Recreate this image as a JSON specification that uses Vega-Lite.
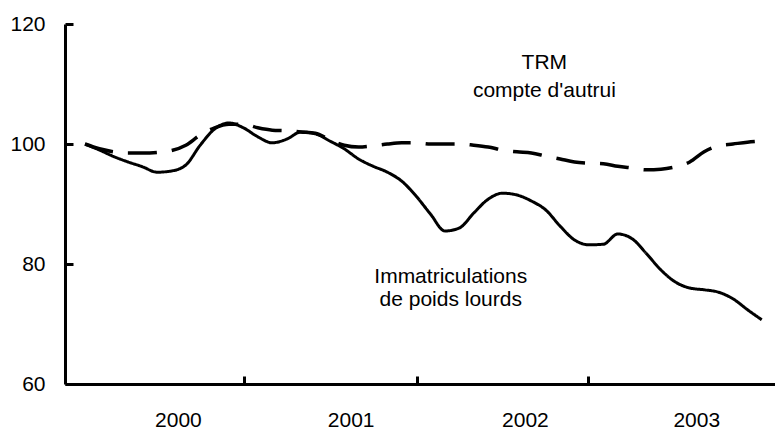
{
  "$schema": "https://vega.github.io/schema/vega-lite/v6.json",
  "width": 710,
  "height": 360,
  "autosize": {"type": "none"},
  "padding": {"left": 65, "top": 24, "right": 0, "bottom": 45},
  "background": "white",
  "config": {"view": {"stroke": null}, "font": "Liberation Sans"},
  "datasets": {
    "series": [
      {"mois": 0, "serie": "Immatriculations de poids lourds", "indice": 100.0},
      {"mois": 1, "serie": "Immatriculations de poids lourds", "indice": 99.0},
      {"mois": 2, "serie": "Immatriculations de poids lourds", "indice": 97.9},
      {"mois": 3, "serie": "Immatriculations de poids lourds", "indice": 97.0},
      {"mois": 4, "serie": "Immatriculations de poids lourds", "indice": 96.2},
      {"mois": 5, "serie": "Immatriculations de poids lourds", "indice": 95.3},
      {"mois": 6, "serie": "Immatriculations de poids lourds", "indice": 95.5},
      {"mois": 7, "serie": "Immatriculations de poids lourds", "indice": 96.5},
      {"mois": 8, "serie": "Immatriculations de poids lourds", "indice": 99.8},
      {"mois": 9, "serie": "Immatriculations de poids lourds", "indice": 102.5},
      {"mois": 10, "serie": "Immatriculations de poids lourds", "indice": 103.5},
      {"mois": 11, "serie": "Immatriculations de poids lourds", "indice": 102.7},
      {"mois": 12, "serie": "Immatriculations de poids lourds", "indice": 101.2},
      {"mois": 13, "serie": "Immatriculations de poids lourds", "indice": 100.2},
      {"mois": 14, "serie": "Immatriculations de poids lourds", "indice": 100.8},
      {"mois": 15, "serie": "Immatriculations de poids lourds", "indice": 102.0},
      {"mois": 16, "serie": "Immatriculations de poids lourds", "indice": 101.7},
      {"mois": 17, "serie": "Immatriculations de poids lourds", "indice": 100.5},
      {"mois": 18, "serie": "Immatriculations de poids lourds", "indice": 99.2},
      {"mois": 19, "serie": "Immatriculations de poids lourds", "indice": 97.5},
      {"mois": 20, "serie": "Immatriculations de poids lourds", "indice": 96.3},
      {"mois": 21, "serie": "Immatriculations de poids lourds", "indice": 95.3},
      {"mois": 22, "serie": "Immatriculations de poids lourds", "indice": 93.8},
      {"mois": 23, "serie": "Immatriculations de poids lourds", "indice": 91.3},
      {"mois": 24, "serie": "Immatriculations de poids lourds", "indice": 88.3},
      {"mois": 25, "serie": "Immatriculations de poids lourds", "indice": 85.5},
      {"mois": 26, "serie": "Immatriculations de poids lourds", "indice": 86.0},
      {"mois": 27, "serie": "Immatriculations de poids lourds", "indice": 88.5},
      {"mois": 28, "serie": "Immatriculations de poids lourds", "indice": 90.8},
      {"mois": 29, "serie": "Immatriculations de poids lourds", "indice": 91.8},
      {"mois": 30, "serie": "Immatriculations de poids lourds", "indice": 91.5},
      {"mois": 31, "serie": "Immatriculations de poids lourds", "indice": 90.5},
      {"mois": 32, "serie": "Immatriculations de poids lourds", "indice": 89.0},
      {"mois": 33, "serie": "Immatriculations de poids lourds", "indice": 86.3},
      {"mois": 34, "serie": "Immatriculations de poids lourds", "indice": 84.0},
      {"mois": 35, "serie": "Immatriculations de poids lourds", "indice": 83.2},
      {"mois": 36, "serie": "Immatriculations de poids lourds", "indice": 83.3},
      {"mois": 37, "serie": "Immatriculations de poids lourds", "indice": 85.0},
      {"mois": 38, "serie": "Immatriculations de poids lourds", "indice": 84.2},
      {"mois": 39, "serie": "Immatriculations de poids lourds", "indice": 81.7},
      {"mois": 40, "serie": "Immatriculations de poids lourds", "indice": 79.0},
      {"mois": 41, "serie": "Immatriculations de poids lourds", "indice": 77.0},
      {"mois": 42, "serie": "Immatriculations de poids lourds", "indice": 76.0},
      {"mois": 43, "serie": "Immatriculations de poids lourds", "indice": 75.7},
      {"mois": 44, "serie": "Immatriculations de poids lourds", "indice": 75.3},
      {"mois": 45, "serie": "Immatriculations de poids lourds", "indice": 74.2},
      {"mois": 46, "serie": "Immatriculations de poids lourds", "indice": 72.4},
      {"mois": 47, "serie": "Immatriculations de poids lourds", "indice": 70.7},
      {"mois": 0, "serie": "TRM compte d'autrui", "indice": 100.0},
      {"mois": 1, "serie": "TRM compte d'autrui", "indice": 99.2},
      {"mois": 2, "serie": "TRM compte d'autrui", "indice": 98.7},
      {"mois": 3, "serie": "TRM compte d'autrui", "indice": 98.5},
      {"mois": 4, "serie": "TRM compte d'autrui", "indice": 98.5},
      {"mois": 5, "serie": "TRM compte d'autrui", "indice": 98.6},
      {"mois": 6, "serie": "TRM compte d'autrui", "indice": 98.9},
      {"mois": 7, "serie": "TRM compte d'autrui", "indice": 99.8},
      {"mois": 8, "serie": "TRM compte d'autrui", "indice": 101.5},
      {"mois": 9, "serie": "TRM compte d'autrui", "indice": 102.7},
      {"mois": 10, "serie": "TRM compte d'autrui", "indice": 103.3},
      {"mois": 11, "serie": "TRM compte d'autrui", "indice": 103.3},
      {"mois": 12, "serie": "TRM compte d'autrui", "indice": 102.7},
      {"mois": 13, "serie": "TRM compte d'autrui", "indice": 102.3},
      {"mois": 14, "serie": "TRM compte d'autrui", "indice": 102.2},
      {"mois": 15, "serie": "TRM compte d'autrui", "indice": 102.0},
      {"mois": 16, "serie": "TRM compte d'autrui", "indice": 101.8},
      {"mois": 17, "serie": "TRM compte d'autrui", "indice": 100.7},
      {"mois": 18, "serie": "TRM compte d'autrui", "indice": 99.8},
      {"mois": 19, "serie": "TRM compte d'autrui", "indice": 99.5},
      {"mois": 20, "serie": "TRM compte d'autrui", "indice": 99.7},
      {"mois": 21, "serie": "TRM compte d'autrui", "indice": 100.0},
      {"mois": 22, "serie": "TRM compte d'autrui", "indice": 100.2},
      {"mois": 23, "serie": "TRM compte d'autrui", "indice": 100.2},
      {"mois": 24, "serie": "TRM compte d'autrui", "indice": 100.0},
      {"mois": 25, "serie": "TRM compte d'autrui", "indice": 100.0},
      {"mois": 26, "serie": "TRM compte d'autrui", "indice": 100.0},
      {"mois": 27, "serie": "TRM compte d'autrui", "indice": 99.8},
      {"mois": 28, "serie": "TRM compte d'autrui", "indice": 99.5},
      {"mois": 29, "serie": "TRM compte d'autrui", "indice": 99.0},
      {"mois": 30, "serie": "TRM compte d'autrui", "indice": 98.7},
      {"mois": 31, "serie": "TRM compte d'autrui", "indice": 98.5},
      {"mois": 32, "serie": "TRM compte d'autrui", "indice": 98.0},
      {"mois": 33, "serie": "TRM compte d'autrui", "indice": 97.5},
      {"mois": 34, "serie": "TRM compte d'autrui", "indice": 97.0},
      {"mois": 35, "serie": "TRM compte d'autrui", "indice": 96.8},
      {"mois": 36, "serie": "TRM compte d'autrui", "indice": 96.7},
      {"mois": 37, "serie": "TRM compte d'autrui", "indice": 96.3},
      {"mois": 38, "serie": "TRM compte d'autrui", "indice": 96.0},
      {"mois": 39, "serie": "TRM compte d'autrui", "indice": 95.7},
      {"mois": 40, "serie": "TRM compte d'autrui", "indice": 95.8},
      {"mois": 41, "serie": "TRM compte d'autrui", "indice": 96.2},
      {"mois": 42, "serie": "TRM compte d'autrui", "indice": 97.0},
      {"mois": 43, "serie": "TRM compte d'autrui", "indice": 98.7},
      {"mois": 44, "serie": "TRM compte d'autrui", "indice": 99.7},
      {"mois": 45, "serie": "TRM compte d'autrui", "indice": 100.0},
      {"mois": 46, "serie": "TRM compte d'autrui", "indice": 100.3},
      {"mois": 47, "serie": "TRM compte d'autrui", "indice": 100.5}
    ],
    "etiquettes": [
      {"mois": 31.9, "indice": 112.5, "texte": "TRM"},
      {"mois": 31.9, "indice": 107.8, "texte": "compte d'autrui"},
      {"mois": 25.4, "indice": 76.8, "texte": "Immatriculations"},
      {"mois": 25.4, "indice": 73.0, "texte": "de poids lourds"}
    ]
  },
  "layer": [
    {
      "data": {"name": "series"},
      "mark": {"type": "line", "color": "black", "interpolate": "monotone", "strokeCap": "butt"},
      "encoding": {
        "x": {
          "field": "mois", "type": "quantitative",
          "scale": {"domain": [-1.39, 47.92], "nice": false, "zero": false},
          "axis": {
            "orient": "bottom",
            "values": [11.05, 23.03, 34.95],
            "labels": false, "grid": false, "title": null,
            "tickSize": -8, "tickWidth": 3, "tickColor": "black",
            "domainColor": "black", "domainWidth": 3
          }
        },
        "y": {
          "field": "indice", "type": "quantitative",
          "scale": {"domain": [60, 120], "nice": false, "zero": false},
          "axis": {
            "values": [60, 80, 100, 120], "grid": false, "title": null,
            "tickSize": -8, "tickWidth": 3, "tickColor": "black",
            "domainColor": "black", "domainWidth": 3,
            "labelFont": "Liberation Sans", "labelFontSize": 21, "labelColor": "black",
            "labelPadding": 28, "labelFlush": false, "labelOverlap": false
          }
        },
        "detail": {"field": "serie"},
        "strokeDash": {
          "field": "serie", "type": "nominal",
          "scale": {"domain": ["Immatriculations de poids lourds", "TRM compte d'autrui"], "range": [[1, 0], [29, 15]]},
          "legend": null
        },
        "strokeWidth": {
          "field": "serie", "type": "nominal",
          "scale": {"domain": ["Immatriculations de poids lourds", "TRM compte d'autrui"], "range": [3, 3.5]},
          "legend": null
        }
      }
    },
    {
      "data": {"name": "etiquettes"},
      "mark": {"type": "text", "color": "black", "font": "Liberation Sans", "fontSize": 21, "align": "center", "baseline": "alphabetic"},
      "encoding": {
        "x": {
          "field": "mois", "type": "quantitative",
          "scale": {"domain": [-1.39, 47.92], "nice": false, "zero": false},
          "axis": {
            "orient": "bottom",
            "values": [6.45, 18.45, 30.55, 42.45],
            "labelExpr": "2000 + floor(datum.value / 12)",
            "ticks": false, "domain": false, "grid": false, "title": null,
            "labelFont": "Liberation Sans", "labelFontSize": 21, "labelColor": "black",
            "labelPadding": 25, "labelFlush": false, "labelOverlap": false
          }
        },
        "y": {
          "field": "indice", "type": "quantitative",
          "scale": {"domain": [60, 120], "nice": false, "zero": false},
          "axis": {
            "values": [60, 80, 100, 120], "grid": false, "title": null,
            "tickSize": -8, "tickWidth": 3, "tickColor": "black",
            "domainColor": "black", "domainWidth": 3,
            "labelFont": "Liberation Sans", "labelFontSize": 21, "labelColor": "black",
            "labelPadding": 28, "labelFlush": false, "labelOverlap": false
          }
        },
        "text": {"field": "texte"}
      }
    }
  ],
  "resolve": {"axis": {"x": "independent"}}
}
